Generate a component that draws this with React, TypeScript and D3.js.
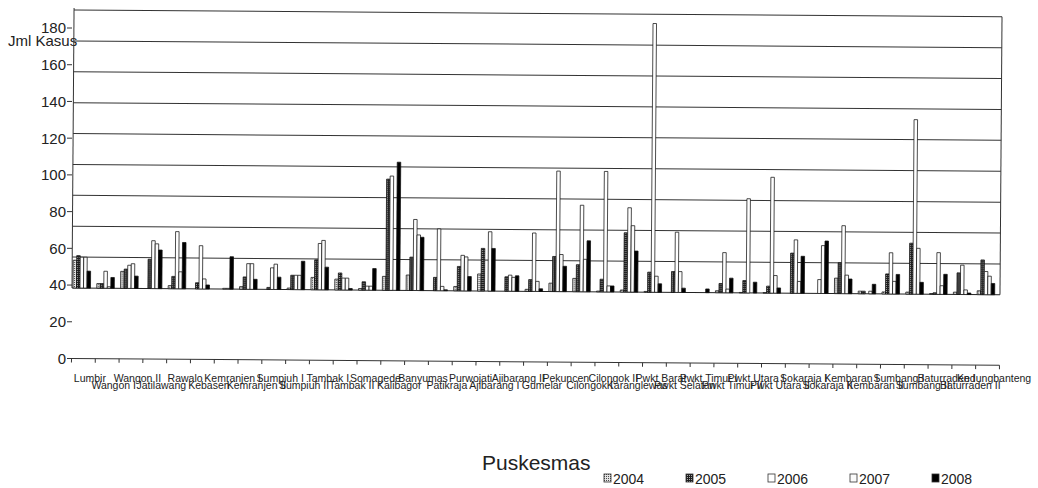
import React from 'react';
import * as d3 from 'd3';

const categories: string[] = [
  'Lumbir', 'Wangon I', 'Wangon II', 'Jatilawang', 'Rawalo', 'Kebasen', 'Kemranjen I', 'Kemranjen II',
  'Sumpiuh I', 'Sumpiuh II', 'Tambak I', 'Tambak II', 'Somagede', 'Kalibagor', 'Banyumas', 'Patikraja',
  'Purwojati', 'Ajibarang I', 'Ajibarang II', 'Gumelar', 'Pekuncen', 'Cilongok I', 'Cilongok II', 'Karanglewas',
  'Pwkt Barat', 'Pwkt Selatan', 'Pwkt Timur I', 'Pwkt Timur II', 'Pwkt Utara I', 'Pwkt Utara II',
  'Sokaraja I', 'Sokaraja II', 'Kembaran I', 'Kembaran II', 'Sumbang I', 'Sumbang II',
  'Baturraden I', 'Baturraden II', 'Kedungbanteng',
];

const years: string[] = ['2004', '2005', '2006', '2007', '2008'];

const v2004: number[] = [18, 3, 11, 0, 2, 0, 0, 1.7, 0, 1, 8, 7, 1, 9, 10, 0, 2.8, 11, 0, 1.3, 5.4, 8.6, 0.5, 1.3, 0.5, 0, 0, 1.3, 0.3, 0.3, 0, 0, 10, 1.7, 1.3, 1.3, 0.5, 1.5, 2.5];
const v2005: number[] = [21, 3, 12.5, 19, 8, 4, 0, 8, 1.3, 9.3, 19.4, 11, 5.4, 72, 21.6, 8.6, 15.8, 27.6, 9.3, 7.6, 22.7, 17.5, 8.2, 38.4, 13, 13.5, 0, 6, 8, 4.5, 26, 0, 20, 1.7, 13, 33, 1, 14, 22.5];
const v2006: number[] = [20, 11, 15, 31, 37, 28, 0.5, 16.6, 14, 9.3, 30, 7.7, 2.6, 74, 46, 40, 23, 0, 10.4, 37.8, 78, 56, 78, 54.6, 174, 39, 0, 26, 61, 75, 34.6, 9, 44, 0, 26.7, 113, 27, 19, 15];
const v2007: number[] = [20, 1, 16, 29, 11, 6.5, 0.5, 16.6, 16.4, 9.3, 32, 7.7, 2.6, 0, 36, 2.8, 22, 38.4, 9, 6.5, 24, 21, 3.9, 43, 10.4, 13.5, 0, 2.4, 0, 11.4, 7.7, 31, 12, 1.7, 8.2, 29.7, 5.6, 3, 12];
const v2008: number[] = [11, 7, 8, 25, 30, 2.6, 21, 6.5, 8, 18.4, 14.7, 1, 14, 83, 34.5, 0.6, 9.3, 27.6, 10, 1.7, 16.4, 33, 3.9, 26.6, 5.5, 2.8, 2.4, 9.5, 7, 3.4, 24, 34, 9.5, 6.2, 12.7, 7.7, 13, 1, 7.3];

const yTicks: number[] = [0, 20, 40, 60, 80, 100, 120, 140, 160, 180];

const FONT = "'Liberation Sans', Arial, Helvetica, sans-serif";

export default function App() {
  const W = 1038;
  const H = 488;
  const left = 72;
  const right = 1000;
  const base = 288;
  const top = 10;

  const x = d3.scaleBand<string>().domain(categories).range([left, right]).padding(0);
  const xIn = d3.scaleBand<string>().domain(years).range([1, 18.5]).padding(0);
  const y = d3.scaleLinear().domain([0, 180]).range([base, top]);
  const yLab = d3.scaleLinear().domain([0, 180]).range([358.5, 28]);

  const series = [v2004, v2005, v2006, v2007, v2008];
  const fills = ['url(#p2004)', 'url(#p2005)', '#ffffff', '#fbfbfb', '#000000'];

  const gridVals = yTicks.filter((v) => v > 0);
  const boundaries = d3.range(categories.length + 1).map((i) =>
    i < categories.length ? (x(categories[i]) as number) : right
  );

  return (
    <svg
      width={W}
      height={H}
      style={{ position: 'absolute', left: 0, top: 0, background: '#fff' }}
      fontFamily={FONT}
    >
      <defs>
        <pattern id="p2004" patternUnits="userSpaceOnUse" width="2" height="2">
          <rect width="2" height="2" fill="#e4e4e4" />
          <rect width="1" height="1" fill="#4a4a4a" />
        </pattern>
        <pattern id="p2005" patternUnits="userSpaceOnUse" width="2" height="2">
          <rect width="2" height="2" fill="#1e1e1e" />
          <rect x="1" y="1" width="1" height="1" fill="#aaa" />
        </pattern>
      </defs>
      <rect width={W} height={H} fill="#fff" />

      {/* y tick labels */}
      {yTicks.map((v) => (
        <g key={'yl' + v}>
          <text x={66} y={yLab(v)} dy="0.36em" textAnchor="end" fontSize={15} fill="#222">
            {v}
          </text>
          <line x1={67} x2={72} y1={yLab(v)} y2={yLab(v)} stroke="#333" strokeWidth={1} />
        </g>
      ))}
      <text x={8} y={46} fontSize={15} fill="#222">Jml Kasus</text>

      <g transform={`rotate(0.42, ${left}, ${base})`}>
        {/* gridlines */}
        {gridVals.map((v) => (
          <line key={'g' + v} x1={left} x2={right} y1={y(v)} y2={y(v)} stroke="#333" strokeWidth={1} />
        ))}
        <line x1={left} x2={right} y1={y(0)} y2={y(0)} stroke="#222" strokeWidth={1} />
        <line x1={left} x2={left} y1={y(180) - 2} y2={y(0)} stroke="#333" strokeWidth={1} />
        <line x1={right} x2={right} y1={y(180)} y2={y(0)} stroke="#333" strokeWidth={1} />

        {/* bars */}
        {categories.map((c, i) => (
          <g key={c} transform={`translate(${x(c)},0)`}>
            {years.map((yr, k) => {
              const v = series[k][i];
              if (v <= 0) return null;
              const h = y(0) - y(v);
              return (
                <rect
                  key={yr}
                  x={xIn(yr)}
                  y={y(v)}
                  width={xIn.bandwidth()}
                  height={h}
                  fill={fills[k]}
                  stroke="#111"
                  strokeWidth={0.75}
                />
              );
            })}
          </g>
        ))}

        {/* bottom axis */}
        <line x1={left} x2={right} y1={yLab(0)} y2={yLab(0)} stroke="#333" strokeWidth={1} />
        {boundaries.map((bx, i) => (
          <line key={'t' + i} x1={bx} x2={bx} y1={yLab(0)} y2={yLab(0) + 4} stroke="#333" strokeWidth={1} />
        ))}
      </g>

      {/* category labels, staggered */}
      {categories.map((c, i) => (
        <text
          key={'xl' + c}
          x={(x(c) as number) + x.bandwidth() / 2 + 6}
          y={i % 2 === 0 ? 382 : 389}
          textAnchor="middle"
          fontSize={10.5}
          fill="#222"
        >
          {c}
        </text>
      ))}

      <text x={482} y={470} fontSize={21} fill="#222">Puskesmas</text>

      {/* legend */}
      {years.map((yr, k) => (
        <g key={'lg' + yr} transform={`translate(${604 + k * 82},0)`}>
          <rect x={0} y={474} width={7} height={8} fill={fills[k]} stroke="#333" strokeWidth={0.8} />
          <text x={9} y={484} fontSize={14} fill="#222">{yr}</text>
        </g>
      ))}
    </svg>
  );
}
